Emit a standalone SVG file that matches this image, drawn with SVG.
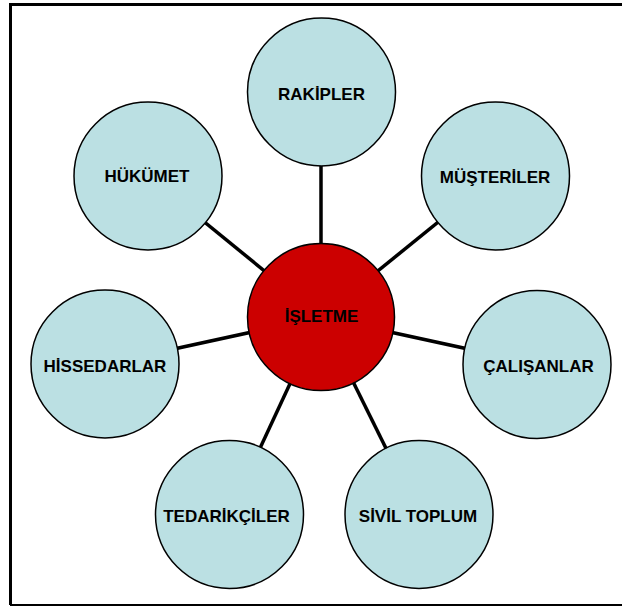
<svg xmlns="http://www.w3.org/2000/svg" width="622" height="607" viewBox="0 0 622 607">
<style>
.n{fill:#BBE0E3;stroke:#000;stroke-width:1.5}
.c{fill:#CC0000;stroke:#000;stroke-width:1.5}
.t{font-family:"Liberation Sans",Arial,sans-serif;font-weight:bold;font-size:17px;fill:#000;text-anchor:middle}
.e{stroke:#000;stroke-width:3.5;fill:none}
</style>
<rect width="622" height="607" fill="#fff"/>
<path d="M10.5,605 V4.5 H630" fill="none" stroke="#000" stroke-width="3"/>
<path d="M10,605 H630" fill="none" stroke="#000" stroke-width="2"/>
<g id="connectors">
<line class="e" x1="321" y1="317" x2="321" y2="92"/>
<line class="e" x1="321" y1="317" x2="148" y2="176"/>
<line class="e" x1="321" y1="317" x2="495" y2="176"/>
<line class="e" x1="321" y1="317" x2="105" y2="364"/>
<line class="e" x1="321" y1="317" x2="537" y2="364"/>
<line class="e" x1="321" y1="317" x2="229" y2="515"/>
<line class="e" x1="321" y1="317" x2="419" y2="515"/>
</g>
<g id="rakipler"><circle class="n" cx="321.5" cy="92" r="74"/><text class="t" x="321.5" y="100">RAKİPLER</text></g>
<g id="hukumet"><circle class="n" cx="148" cy="176" r="74"/><text class="t" x="147" y="182">HÜKÜMET</text></g>
<g id="musteriler"><circle class="n" cx="495.5" cy="176" r="74"/><text class="t" x="495" y="183">MÜŞTERİLER</text></g>
<g id="hissedarlar"><circle class="n" cx="105" cy="364" r="74"/><text class="t" x="105" y="372">HİSSEDARLAR</text></g>
<g id="calisanlar"><circle class="n" cx="537" cy="364.5" r="74"/><text class="t" x="538.5" y="372">ÇALIŞANLAR</text></g>
<g id="tedarikciler"><circle class="n" cx="229.5" cy="514.5" r="74"/><text class="t" x="226.5" y="522">TEDARİKÇİLER</text></g>
<g id="siviltoplum"><circle class="n" cx="419" cy="514.5" r="74"/><text class="t" x="418" y="522">SİVİL TOPLUM</text></g>
<g id="isletme"><circle class="c" cx="321" cy="317" r="73.5"/><text class="t" x="321.5" y="322">İŞLETME</text></g>
</svg>
